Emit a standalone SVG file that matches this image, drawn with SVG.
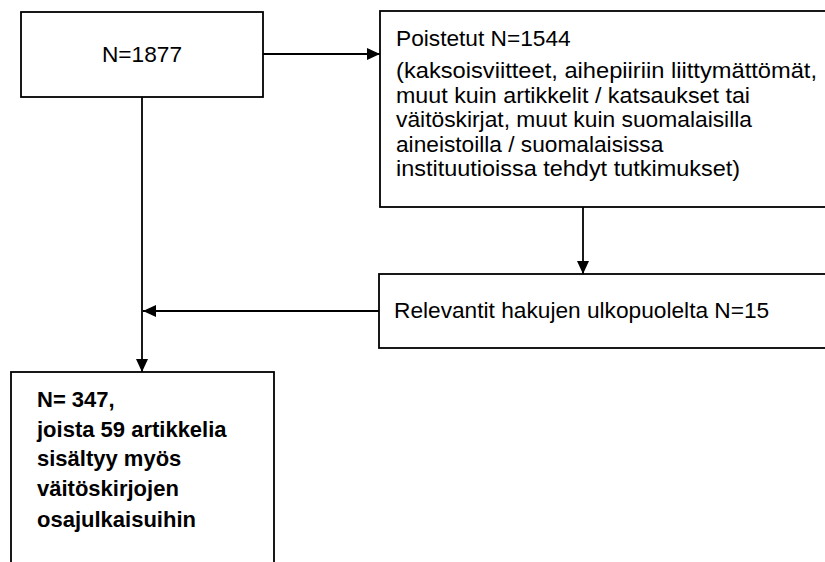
<svg xmlns="http://www.w3.org/2000/svg" width="825" height="562" viewBox="0 0 825 562">
<defs>
<style>
.box{fill:#fff;stroke:#000;stroke-width:1.8}
.t{font-family:"Liberation Sans",Arial,sans-serif;font-size:22.7px;fill:#000}
.b{font-family:"Liberation Sans",Arial,sans-serif;font-size:22px;font-weight:bold;fill:#000}
.c{fill:none;stroke:#000;stroke-width:1.8}
</style>
<marker id="ah" markerUnits="userSpaceOnUse" markerWidth="14" markerHeight="14" viewBox="0 0 14 14" refX="13" refY="7" orient="auto">
<path d="M0,1 L13,7 L0,13 Z" fill="#000"/>
</marker>
</defs>
<rect width="825" height="562" fill="#fff"/>
<g id="connectors">
<line class="c" x1="263" y1="54" x2="380" y2="54" marker-end="url(#ah)"/>
<line class="c" x1="142" y1="97" x2="142" y2="372" marker-end="url(#ah)"/>
<line class="c" x1="583" y1="207" x2="583" y2="274" marker-end="url(#ah)"/>
<line class="c" x1="379" y1="311" x2="143" y2="311" marker-end="url(#ah)"/>
</g>
<g id="node-total">
<rect class="box" x="21" y="12" width="242" height="85"/>
<text class="t" x="142" y="62" text-anchor="middle">N=1877</text>
</g>
<g id="node-removed">
<rect class="box" x="380" y="11" width="460" height="196"/>
<text class="t" x="396" y="46">Poistetut N=1544</text>
<text class="t" x="396" y="78" textLength="421" lengthAdjust="spacingAndGlyphs">(kaksoisviitteet, aihepiiriin liittymättömät,</text>
<text class="t" x="396" y="103" textLength="354" lengthAdjust="spacingAndGlyphs">muut kuin artikkelit / katsaukset tai</text>
<text class="t" x="396" y="127" textLength="356" lengthAdjust="spacingAndGlyphs">väitöskirjat, muut kuin suomalaisilla</text>
<text class="t" x="396" y="152">aineistoilla / suomalaisissa</text>
<text class="t" x="396" y="176" textLength="344" lengthAdjust="spacingAndGlyphs">instituutioissa tehdyt tutkimukset)</text>
</g>
<g id="node-relevant">
<rect class="box" x="379" y="274" width="460" height="74"/>
<text class="t" x="394" y="318">Relevantit hakujen ulkopuolelta N=15</text>
</g>
<g id="node-final">
<rect class="box" x="11" y="372" width="263" height="200"/>
<text class="b" x="37" y="407">N= 347,</text>
<text class="b" x="37" y="437">joista 59 artikkelia</text>
<text class="b" x="37" y="466">sisältyy myös</text>
<text class="b" x="37" y="496">väitöskirjojen</text>
<text class="b" x="37" y="527">osajulkaisuihin</text>
</g>
</svg>
